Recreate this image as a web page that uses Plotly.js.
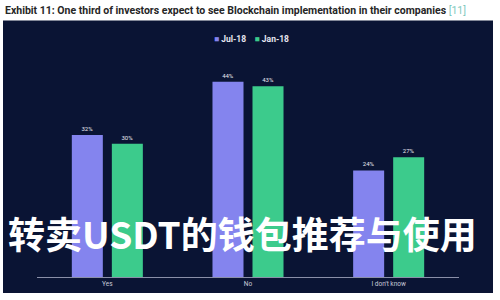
<!DOCTYPE html>
<html>
<head>
<meta charset="utf-8">
<script src="https://cdn.plot.ly/plotly-3.0.1.min.js"></script>
<style>html,body{margin:0;padding:0;background:#fff;}#chart{width:500px;height:300px;}</style>
</head>
<body>
<div id="chart"></div>
<script>
const categories = ["Yes", "No", "I don't know"];
const seriesNames = ["Jul-18", "Jan-18"];
const jul18 = [32, 44, 24];
const jan18 = [30, 43, 27];
const titleText = "Exhibit 11: One third of investors expect to see Blockchain implementation in their companies";
const refText = "[11]";
const overlayText = "转卖USDT的钱包推荐与使用";

const colors = ["#8484ee", "#3ccb8c"];
const values = [jul18, jan18];

const traces = seriesNames.map((name, i) => ({
  type: "bar",
  name: name,
  x: categories,
  y: values[i],
  text: values[i].map(v => v + "%"),
  textposition: "outside",
  cliponaxis: false,
  textfont: {color: "#e8e8f0", size: 6, family: "Roboto, Arial, sans-serif"},
  marker: {color: colors[i]},
  showlegend: false,
  hoverinfo: "none"
}));

// plot area: x 37..459, y 55.5..277
const L = 37, R = 41, T = 55.5, B = 23;
const W = 500 - L - R, H = 300 - T - B;
const px = x => (x - L) / W;
const py = y => (300 - B - y) / H;

const legendText = seriesNames.map((n, i) =>
  "<span style='color:" + colors[i] + "'>■</span> " + n).join("&nbsp;&nbsp;&nbsp;&nbsp;");

const layout = {
  width: 500, height: 300,
  margin: {l: L, r: R, t: T, b: B, pad: 0},
  paper_bgcolor: "#ffffff",
  plot_bgcolor: "rgba(0,0,0,0)",
  barmode: "group",
  bargap: 0.431,
  bargroupgap: 0.225,
  showlegend: false,
  xaxis: {
    showline: true, linecolor: "#8a8fa8", linewidth: 1,
    ticks: "", showgrid: false, zeroline: false,
    tickfont: {color: "#c8cad8", size: 6.5, family: "Roboto, Arial, sans-serif"}
  },
  yaxis: {
    range: [0, 49.8], visible: false, showgrid: false, zeroline: false, fixedrange: true
  },
  shapes: [{
    type: "rect", xref: "paper", yref: "paper", layer: "below",
    x0: px(3), x1: px(493), y0: py(293), y1: py(20),
    fillcolor: "#0a1434", line: {width: 0}
  }],
  annotations: [
    {
      xref: "paper", yref: "paper", x: px(3), y: py(10), xanchor: "left", yanchor: "middle",
      showarrow: false,
      text: "<b>" + titleText + "</b> <span style='color:#7fc9be'>" + refText + "</span>",
      font: {size: 10.5, color: "#262626", family: "Roboto, Arial, sans-serif"}
    },
    {
      xref: "paper", yref: "paper", x: px(251), y: py(38), xanchor: "center", yanchor: "middle",
      showarrow: false,
      text: "<b>" + legendText + "</b>",
      font: {size: 8.5, color: "#e6e6f0", family: "Roboto, Arial, sans-serif"}
    },
    {
      xref: "paper", yref: "paper", x: px(6), y: py(233), xanchor: "left", yanchor: "middle",
      showarrow: false,
      text: "<b>" + overlayText + "</b>",
      font: {size: 37, color: "#ffffff", family: "Noto Sans CJK SC, sans-serif"}
    }
  ]
};

Plotly.newPlot("chart", traces, layout, {staticPlot: true, displayModeBar: false});
</script>
</body>
</html>
